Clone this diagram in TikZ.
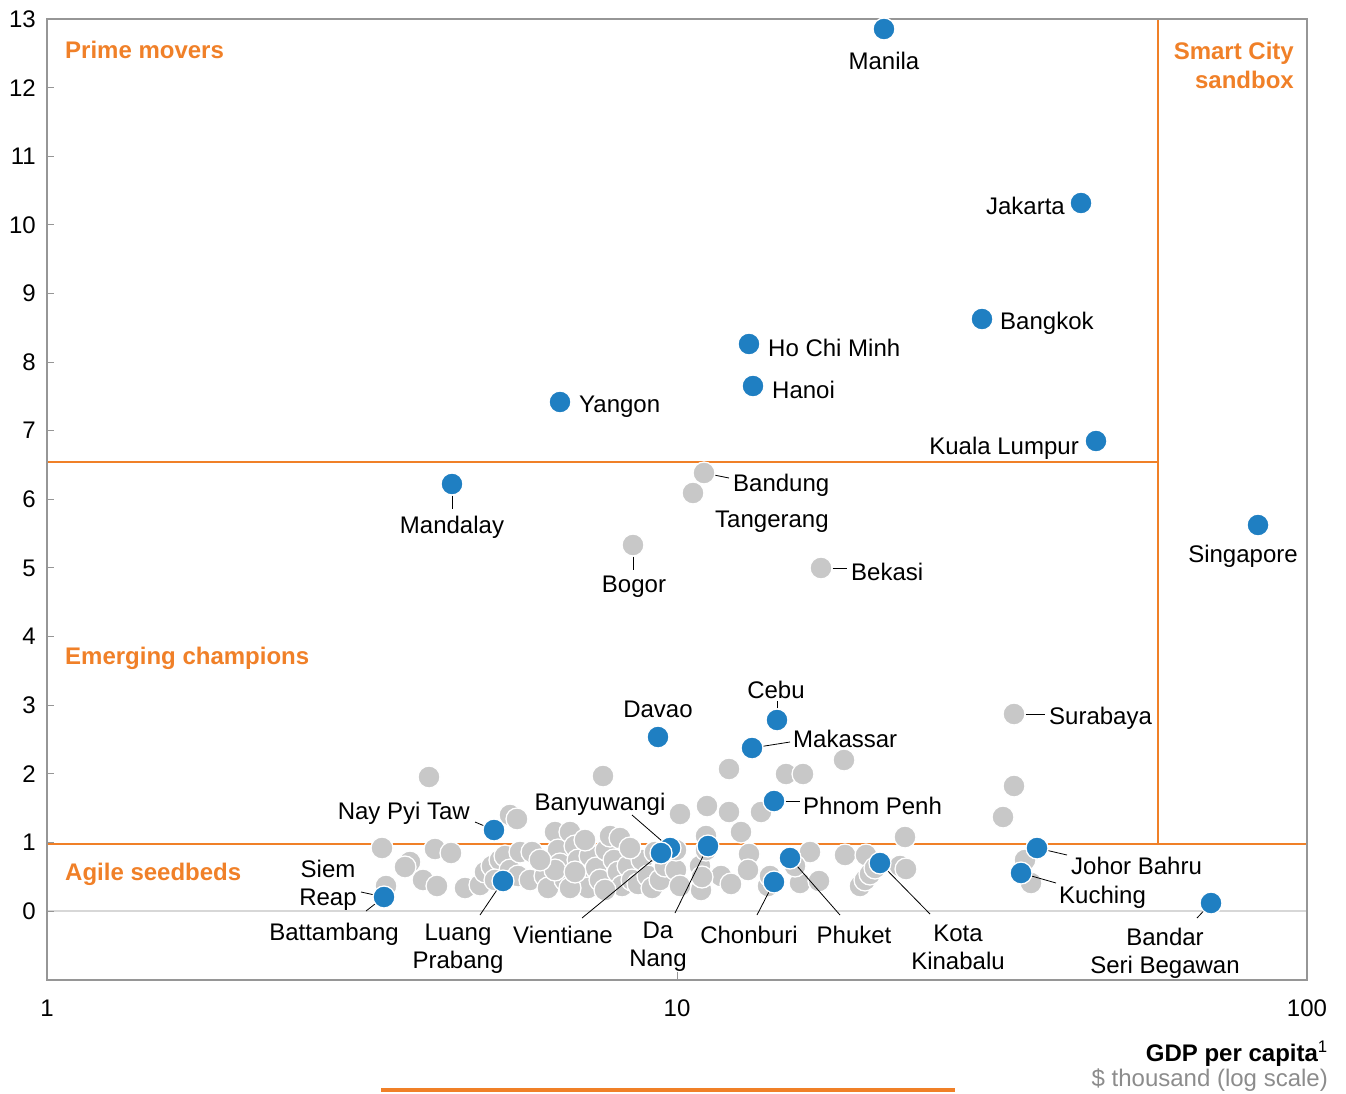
\documentclass[tikz,border=0pt]{standalone}
\usepackage{fontspec}
\setmainfont{Liberation Sans}
\definecolor{cblue}{RGB}{31,127,194}
\definecolor{cgray}{RGB}{200,200,200}
\definecolor{corange}{RGB}{240,128,40}
\definecolor{cframe}{RGB}{150,150,150}
\definecolor{czero}{RGB}{215,215,215}
\definecolor{ctext}{RGB}{140,140,140}
\newcommand{\lblfont}{\fontsize{24}{28}\selectfont}
\newcommand{\regfont}{\fontsize{24}{29}\selectfont\bfseries}
\tikzset{
  bdot/.style={circle, fill=cblue, draw=white, line width=1.3pt, minimum size=22pt, inner sep=0pt},
  gdot/.style={circle, fill=cgray, draw=white, line width=1.3pt, minimum size=22pt, inner sep=0pt},
  numlbl/.style={font=\lblfont, inner sep=0pt, text=black},
  lbl/.style={font=\lblfont, inner sep=0pt, text=black, align=center, yshift=-2pt},
  leader/.style={draw=black, line width=0.8pt},
  region/.style={font=\regfont, text=corange, inner sep=0pt},
  qline/.style={draw=corange, line width=1.6pt},
  frame/.style={draw=cframe, line width=1.6pt},
}
\begin{document}
\begin{tikzpicture}[x=1pt, y=-1pt]
\useasboundingbox (0,0) rectangle (1346,1093);
% zero line
\draw[czero, line width=1.2pt] (47,911) -- (1307,911);
% quadrant lines
\draw[qline] (47,462) -- (1158,462);
\draw[qline] (47,844) -- (1307,844);
\draw[qline] (1158,19) -- (1158,844);
% frame
\draw[frame] (47,19) rectangle (1307,980);
% y ticks and labels
\foreach \v in {0,...,13}{
  \pgfmathsetmacro{\yy}{911-68.615*\v}
  \draw[cframe, line width=1pt] (47,\yy) -- (54,\yy);
  \node[numlbl, anchor=east] (yl\v) at (36,\yy) {\v};
}
\draw[cframe, line width=1pt] (677,980) -- (677,972);
\node[numlbl] (x1) at (47,1008) {1};
\node[numlbl] (x10) at (677,1008) {10};
\node[numlbl] (x100) at (1307,1008) {100};
\node[font=\fontsize{24}{28}\selectfont\bfseries, anchor=east, inner sep=0pt] (xt) at (1328,1054) {GDP per capita\textsuperscript{\mdseries 1}};
\node[font=\fontsize{24}{28}\selectfont, text=ctext, anchor=east, inner sep=0pt] (xs) at (1328,1080) {\$ thousand (log scale)};
\draw[corange, line width=3.5pt] (381,1090) -- (955,1090);
% region labels
\node[region, anchor=west] (rpm) at (65,50) {Prime movers};
\node[region, anchor=east, align=right] (rsc) at (1294,65) {Smart City\\sandbox};
\node[region, anchor=west] (rec) at (65,658) {Emerging champions};
\node[region, anchor=west] (ras) at (65,874) {Agile seedbeds};
% gray dots (unlabelled)
\foreach \px/\py [count=\i] in {
 429/777, 603/776, 729/769, 786/774, 803/774, 844/760, 1014/786, 1003/817, 905/837,
 382/848, 410/862, 405/867, 435/849, 451/853, 423/880, 437/886, 386/886, 465/888, 480/885,
 510/815, 517/819, 680/814, 707/806, 729/812, 741/832, 761/812, 706/836, 749/854, 748/870,
 721/876, 731/884, 701/890, 768/886, 800/883, 819/881, 810/852, 845/855, 866/855,
 860/886, 865/880, 870/874, 875/868, 900/866, 906/869, 1025/860, 1031/883, 770/876,
 795/866, 700/866, 702/877, 706/850,
 485/872, 492/866, 500/860, 505/856, 510/870, 518/876, 520/852, 532/852, 530/880, 545/876,
 548/888, 555/832, 558/850, 560/864, 565/880, 570/832, 575/846, 578/860, 582/874, 588/888,
 590/856, 596/868, 600/880, 606/850, 610/836, 614/860, 618/872, 622/886, 628/866, 632/880,
 638/884, 642/860, 648/876, 652/888, 660/880, 665/866, 676/870, 680/886, 555/870, 570/888,
 620/838, 540/860, 585/840, 630/848, 655/852, 676/850, 495/880, 575/872, 605/890}
 { \node[gdot] (g\i) at (\px,\py) {}; }
% labelled gray dots
\node[gdot] (bandung) at (704,473) {};
\node[gdot] (tangerang) at (693,493) {};
\node[gdot] (bogor) at (633,545) {};
\node[gdot] (bekasi) at (821,568) {};
\node[gdot] (surabaya) at (1014,714) {};
\node[gdot] (siemreap) at (386,886) {};
% blue dots
\node[bdot] (manila) at (884,29) {};
\node[bdot] (jakarta) at (1081,203) {};
\node[bdot] (bangkok) at (982,319) {};
\node[bdot] (hcm) at (749,344) {};
\node[bdot] (hanoi) at (753,386) {};
\node[bdot] (yangon) at (560,402) {};
\node[bdot] (kl) at (1096,441) {};
\node[bdot] (singapore) at (1258,525) {};
\node[bdot] (mandalay) at (452,484) {};
\node[bdot] (davao) at (658,737) {};
\node[bdot] (cebu) at (777,720) {};
\node[bdot] (makassar) at (752,748) {};
\node[bdot] (phnompenh) at (774,801) {};
\node[bdot] (naypyitaw) at (494,830) {};
\node[bdot] (banyuwangi) at (670,848) {};
\node[bdot] (vientiane) at (661,853) {};
\node[bdot] (danang) at (708,846) {};
\node[bdot] (phuket) at (790,858) {};
\node[bdot] (chonburi) at (774,882) {};
\node[bdot] (kota) at (880,863) {};
\node[bdot] (johor) at (1037,848) {};
\node[bdot] (kuching) at (1021,873) {};
\node[bdot] (bandar) at (1211,903) {};
\node[bdot] (luang) at (503,881) {};
\node[bdot] (battambang) at (384,897) {};
% labels
\node[lbl] (manilaL) at (884,59) {Manila};
\node[lbl, anchor=east] (jakartaL) at (1065,204) {Jakarta};
\node[lbl, anchor=west] (bangkokL) at (1000,321) {Bangkok};
\node[lbl, anchor=west] (hcmL) at (768,346) {Ho Chi Minh};
\node[lbl, anchor=west] (hanoiL) at (772,388) {Hanoi};
\node[lbl, anchor=west] (yangonL) at (579,405) {Yangon};
\node[lbl, anchor=east] (klL) at (1079,446) {Kuala Lumpur};
\node[lbl] (singaporeL) at (1243,554) {Singapore};
\node[lbl] (mandalayL) at (452,525) {Mandalay};
\node[lbl, anchor=west] (bandungL) at (733,483) {Bandung};
\node[lbl, anchor=west] (tangerangL) at (715,520) {Tangerang};
\node[lbl] (bogorL) at (634,585) {Bogor};
\node[lbl, anchor=west] (bekasiL) at (851,570) {Bekasi};
\node[lbl] (cebuL) at (776,688) {Cebu};
\node[lbl] (davaoL) at (658,707) {Davao};
\node[lbl, anchor=west] (makassarL) at (793,737) {Makassar};
\node[lbl, anchor=west] (surabayaL) at (1049,716) {Surabaya};
\node[lbl, anchor=west] (phnompenhL) at (803,804) {Phnom Penh};
\node[lbl, anchor=east] (naypyitawL) at (470,811) {Nay Pyi Taw};
\node[lbl] (banyuwangiL) at (600,802) {Banyuwangi};
\node[lbl] (siemreapL) at (328,883) {Siem\\Reap};
\node[lbl] (battambangL) at (334,932) {Battambang};
\node[lbl] (luangL) at (458,947) {Luang\\Prabang};
\node[lbl] (vientianeL) at (563,933) {Vientiane};
\node[lbl] (danangL) at (658,945) {Da\\Nang};
\node[lbl] (chonburiL) at (749,933) {Chonburi};
\node[lbl] (phuketL) at (854,933) {Phuket};
\node[lbl] (kotaL) at (958,945) {Kota\\Kinabalu};
\node[lbl, anchor=west] (johorL) at (1071,864) {Johor Bahru};
\node[lbl, anchor=west] (kuchingL) at (1059,895) {Kuching};
\node[lbl] (bandarL) at (1165,951) {Bandar\\Seri Begawan};
% leader end coordinates
\coordinate (cMand) at (452,509);
\coordinate (cBand) at (729,478);
\coordinate (cBog) at (633,570);
\coordinate (cBek) at (847,568);
\coordinate (cCebu) at (777,701);
\coordinate (cMak) at (790,742);
\coordinate (cSur) at (1045,714);
\coordinate (cPP) at (800,801);
\coordinate (cNPT) at (475,822);
\coordinate (cBany) at (632,815);
\coordinate (cSiem) at (361,892);
\coordinate (cBatt) at (366,911);
\coordinate (cLuang) at (480,915);
\coordinate (cVien) at (582,918);
\coordinate (cDa) at (675,913);
\coordinate (cChon) at (757,915);
\coordinate (cPhu) at (840,915);
\coordinate (cKota) at (930,914);
\coordinate (cJoh) at (1067,855);
\coordinate (cKuc) at (1056,883);
\coordinate (cBan) at (1197,918);
% leaders
\draw[leader] (mandalay) -- (cMand);
\draw[leader] (bandung) -- (cBand);
\draw[leader] (bogor) -- (cBog);
\draw[leader] (bekasi) -- (cBek);
\draw[leader] (cebu) -- (cCebu);
\draw[leader] (makassar) -- (cMak);
\draw[leader] (surabaya) -- (cSur);
\draw[leader] (phnompenh) -- (cPP);
\draw[leader] (naypyitaw) -- (cNPT);
\draw[leader] (banyuwangi) -- (cBany);
\draw[leader] (battambang) -- (cSiem);
\draw[leader] (battambang) -- (cBatt);
\draw[leader] (luang) -- (cLuang);
\draw[leader] (vientiane) -- (cVien);
\draw[leader] (danang) -- (cDa);
\draw[leader] (chonburi) -- (cChon);
\draw[leader] (phuket) -- (cPhu);
\draw[leader] (kota) -- (cKota);
\draw[leader] (johor) -- (cJoh);
\draw[leader] (kuching) -- (cKuc);
\draw[leader] (bandar) -- (cBan);
\end{tikzpicture}
\end{document}
